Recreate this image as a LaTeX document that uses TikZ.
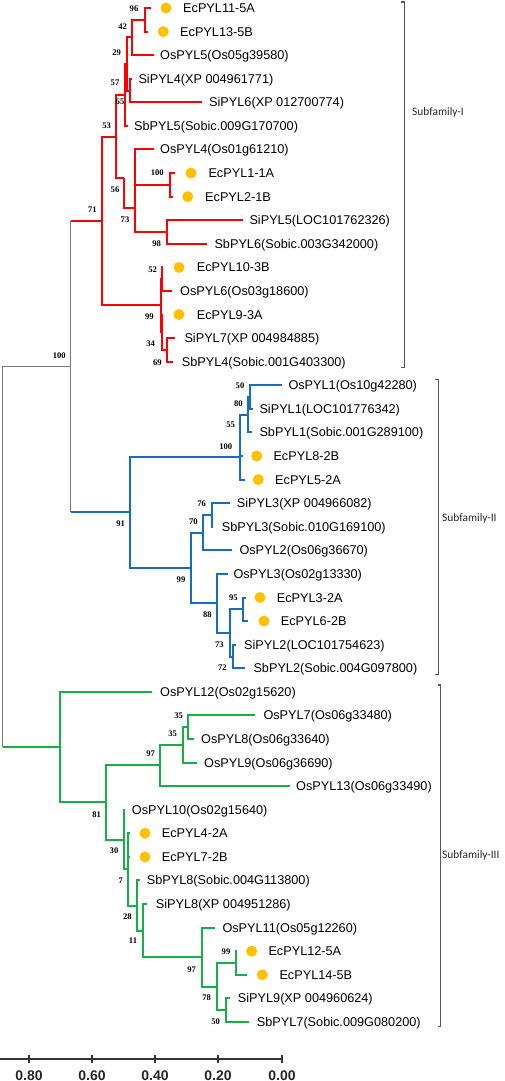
\documentclass[tikz,border=0pt]{standalone}
\usepackage{fontspec}
\setmainfont{Liberation Sans}
\newfontfamily\bsfont{Liberation Serif}
\newfontfamily\subfont{Carlito}
\definecolor{redc}{RGB}{255,0,0}
\definecolor{bluec}{RGB}{20,108,196}
\definecolor{greenc}{RGB}{20,176,70}
\definecolor{grayc}{RGB}{120,120,120}
\definecolor{dotc}{RGB}{255,192,0}
\definecolor{brk}{RGB}{85,85,85}
\tikzset{
  redl/.style={draw=redc,line width=2pt},
  bluel/.style={draw=bluec,line width=2pt},
  greenl/.style={draw=greenc,line width=2pt},
  grayl/.style={draw=grayc,line width=1.1pt},
  leaflab/.style={anchor=base west,inner sep=0pt,font=\fontsize{12.7}{14}\selectfont},
  bs/.style={inner sep=0pt,font=\bsfont\bfseries\fontsize{8.6}{9}\selectfont},
  dotn/.style={circle,fill=dotc,minimum size=11pt,inner sep=0pt},
  sublab/.style={anchor=base west,inner sep=0pt,text=black!85,font=\subfont\fontsize{11.4}{13}\selectfont},
  brack/.style={draw=brk,line width=1.1pt},
  axisl/.style={draw=black!80,line width=1.3pt},
  ticklab/.style={inner sep=0pt,font=\bfseries\fontsize{14}{16}\selectfont,text=black!85}
}
\newcommand\myleaf[5]{\pgfmathsetmacro\yy{8+23.58*(#2-1)}\coordinate (#1) at (#3,\yy);\node[leaflab] (#1t) at (#4,\yy+4.5) {#5};}
\newcommand\mydot[3]{\pgfmathsetmacro\yy{8+23.58*(#3-1)}\node[dotn] (#1) at (#2,\yy) {};}
\begin{document}
\begin{tikzpicture}[x=1pt,y=-1pt]
\useasboundingbox (0,0) rectangle (505,1081);
% ---------- leaves ----------
\myleaf{L1}{1}{150.7}{183}{EcPYL11-5A}\mydot{d1}{166}{1}
\myleaf{L2}{2}{147.7}{180}{EcPYL13-5B}\mydot{d2}{163.3}{2}
\myleaf{L3}{3}{154}{160}{OsPYL5(Os05g39580)}
\myleaf{L4}{4}{131.5}{138.3}{SiPYL4(XP 004961771)}
\myleaf{L5}{5}{201.7}{209}{SiPYL6(XP 012700774)}
\myleaf{L6}{6}{128.3}{134}{SbPYL5(Sobic.009G170700)}
\myleaf{L7}{7}{154}{160}{OsPYL4(Os01g61210)}
\myleaf{L8}{8}{175}{208.3}{EcPYL1-1A}\mydot{d8}{191}{8}
\myleaf{L9}{9}{173}{205}{EcPYL2-1B}\mydot{d9}{187.7}{9}
\myleaf{L10}{10}{243.3}{249.3}{SiPYL5(LOC101762326)}
\myleaf{L11}{11}{206.7}{214.3}{SbPYL6(Sobic.003G342000)}
\myleaf{L12}{12}{162.7}{196.7}{EcPYL10-3B}\mydot{d12}{179}{12}
\myleaf{L13}{13}{171.7}{180}{OsPYL6(Os03g18600)}
\myleaf{L14}{14}{162.7}{196.7}{EcPYL9-3A}\mydot{d14}{179}{14}
\myleaf{L15}{15}{175}{184.3}{SiPYL7(XP 004984885)}
\myleaf{L16}{16}{173.3}{181.7}{SbPYL4(Sobic.001G403300)}
\myleaf{L17}{17}{281.7}{288.3}{OsPYL1(Os10g42280)}
\myleaf{L18}{18}{252.7}{259.3}{SiPYL1(LOC101776342)}
\myleaf{L19}{19}{251.7}{259.3}{SbPYL1(Sobic.001G289100)}
\myleaf{L20}{20}{242.7}{273.3}{EcPYL8-2B}\mydot{d20}{256.7}{20}
\myleaf{L21}{21}{245}{275}{EcPYL5-2A}\mydot{d21}{258.3}{21}
\myleaf{L22}{22}{230}{236.7}{SiPYL3(XP 004966082)}
\myleaf{L23}{23}{213.3}{221.7}{SbPYL3(Sobic.010G169100)}
\myleaf{L24}{24}{231.7}{239.3}{OsPYL2(Os06g36670)}
\myleaf{L25}{25}{227.5}{233.3}{OsPYL3(Os02g13330)}
\myleaf{L26}{26}{246}{276.7}{EcPYL3-2A}\mydot{d26}{260}{26}
\myleaf{L27}{27}{248.3}{280.7}{EcPYL6-2B}\mydot{d27}{264}{27}
\myleaf{L28}{28}{236}{244}{SiPYL2(LOC101754623)}
\myleaf{L29}{29}{245}{253.3}{SbPYL2(Sobic.004G097800)}
\myleaf{L30}{30}{151.7}{160}{OsPYL12(Os02g15620)}
\myleaf{L31}{31}{255}{263.3}{OsPYL7(Os06g33480)}
\myleaf{L32}{32}{194.3}{201}{OsPYL8(Os06g33640)}
\myleaf{L33}{33}{196.7}{204}{OsPYL9(Os06g36690)}
\myleaf{L34}{34}{290}{296}{OsPYL13(Os06g33490)}
\myleaf{L35}{35}{125}{131.7}{OsPYL10(Os02g15640)}
\myleaf{L36}{36}{130}{161.7}{EcPYL4-2A}\mydot{d36}{145}{36}
\myleaf{L37}{37}{130}{161.7}{EcPYL7-2B}\mydot{d37}{145}{37}
\myleaf{L38}{38}{140}{146.7}{SbPYL8(Sobic.004G113800)}
\myleaf{L39}{39}{147}{155.7}{SiPYL8(XP 004951286)}
\myleaf{L40}{40}{215}{222.3}{OsPYL11(Os05g12260)}
\myleaf{L41}{41}{237}{268.3}{EcPYL12-5A}\mydot{d41}{251.7}{41}
\myleaf{L42}{42}{246.7}{279.3}{EcPYL14-5B}\mydot{d42}{262.3}{42}
\myleaf{L43}{43}{230}{237.7}{SiPYL9(XP 004960624)}
\myleaf{L44}{44}{249.3}{256.7}{SbPYL7(Sobic.009G080200)}
% ---------- internal nodes ----------
\coordinate (A) at (145,19.8);
\coordinate (B) at (132,37.5);
\coordinate (D) at (130,90.5);
\coordinate (C) at (126.7,64);
\coordinate (E) at (125,95);
\coordinate (F) at (116,136.5);
\coordinate (H) at (124,178);
\coordinate (I2) at (135,207.5);
\coordinate (J) at (170,184.85);
\coordinate (K) at (166.7,232);
\coordinate (G) at (101.7,220.75);
\coordinate (M) at (160.7,305);
\coordinate (M52) at (161.8,279.2);
\coordinate (M99) at (161.8,332);
\coordinate (N) at (166.7,349.9);
\coordinate (R) at (70.7,366.4);
\coordinate (Root) at (2.7,556.5);
\coordinate (B91) at (130,511.7);
\coordinate (Q100) at (240,456.7);
\coordinate (Q80) at (248.3,414.7);
\coordinate (Q50) at (250.2,397.1);
\coordinate (B99) at (190.7,567.5);
\coordinate (B70) at (202.7,532.7);
\coordinate (B76) at (211.7,515);
\coordinate (B88) at (216.7,603.3);
\coordinate (B73) at (230,632.9);
\coordinate (B95) at (243.3,609.3);
\coordinate (B72) at (233.3,656.5);
\coordinate (G0) at (60,746.75);
\coordinate (G81) at (106,801.65);
\coordinate (G97a) at (160,765.35);
\coordinate (G35b) at (182.7,744.9);
\coordinate (G35a) at (188.3,727.2);
\coordinate (G30) at (124,839.5);
\coordinate (G7) at (128.3,869.4);
\coordinate (G28) at (136.7,905.5);
\coordinate (G11) at (142.7,930.5);
\coordinate (G97b) at (201.7,957.1);
\coordinate (G78) at (216.7,986.6);
\coordinate (G99) at (236,963);
\coordinate (G50) at (226,1010.15);
% ---------- gray backbone ----------
\draw[grayl] (Root|-R) -- (Root|-G0);
\draw[grayl] (Root|-R) -- (R);
\draw[grayl] (R|-G) -- (R|-B91);
\draw[greenl] (Root|-G0) -- (G0);
\draw[redl] (R|-G) -- (G);
\draw[bluel] (R|-B91) -- (B91);
% ---------- red ----------
\draw[redl] (A)|-(L1) (A)|-(L2) (B)|-(A) (B)|-(L3) (D)|-(L4) (D)|-(L5)
 (C)|-(B) (C)|-(D) (E)|-(C) (E)|-(L6) (F)|-(E) (F)|-(H) (H)|-(I2)
 (I2)|-(L7) (I2)|-(J) (I2)|-(K) (J)|-(L8) (J)|-(L9) (K)|-(L10) (K)|-(L11)
 (G)|-(F) (G)|-(M) (M)|-(M52) (M)|-(M99) (M52)|-(L12) (M52)|-(L13)
 (M99)|-(L14) (M99)|-(N) (N)|-(L15) (N)|-(L16);
% ---------- blue ----------
\draw[bluel] (B91)|-(Q100) (B91)|-(B99) (Q100)|-(Q80) (Q100)|-(L20) (Q100)|-(L21)
 (Q80)|-(Q50) (Q80)|-(L19) (Q50)|-(L17) (Q50)|-(L18)
 (B99)|-(B70) (B99)|-(B88) (B70)|-(B76) (B70)|-(L24) (B76)|-(L22) (B76)|-(L23)
 (B88)|-(L25) (B88)|-(B73) (B73)|-(B95) (B73)|-(B72) (B95)|-(L26) (B95)|-(L27)
 (B72)|-(L28) (B72)|-(L29);
% ---------- green ----------
\draw[greenl] (G0)|-(L30) (G0)|-(G81) (G81)|-(G97a) (G81)|-(G30)
 (G97a)|-(G35b) (G97a)|-(L34) (G35b)|-(G35a) (G35b)|-(L33) (G35a)|-(L31) (G35a)|-(L32)
 (G30)|-(L35) (G30)|-(G7) (G7)|-(L36) (G7)|-(L37) (G7)|-(G28)
 (G28)|-(L38) (G28)|-(G11) (G11)|-(L39) (G11)|-(G97b) (G97b)|-(L40) (G97b)|-(G78)
 (G78)|-(G99) (G78)|-(G50) (G99)|-(L41) (G99)|-(L42) (G50)|-(L43) (G50)|-(L44);
% ---------- bootstrap values ----------
\node[bs] (s1) at (134,8.7) {96};
\node[bs] (s2) at (122.7,26.7) {42};
\node[bs] (s3) at (116.7,53) {29};
\node[bs] (s4) at (115,83) {57};
\node[bs] (s5) at (120,101.7) {65};
\node[bs] (s6) at (106.7,126) {53};
\node[bs] (s7) at (157.3,173) {100};
\node[bs] (s8) at (115,190) {56};
\node[bs] (s9) at (125,220) {73};
\node[bs] (s10) at (156.7,243.3) {98};
\node[bs] (s11) at (92.3,210) {71};
\node[bs] (s12) at (152.7,270) {52};
\node[bs] (s13) at (149.3,316.7) {99};
\node[bs] (s14) at (150.7,343.3) {34};
\node[bs] (s15) at (157.3,362.3) {69};
\node[bs] (s16) at (59.3,356) {100};
\node[bs] (s17) at (240,386) {50};
\node[bs] (s18) at (238.3,404) {80};
\node[bs] (s19) at (230.7,424.3) {55};
\node[bs] (s20) at (225.7,446.7) {100};
\node[bs] (s21) at (120.7,523.3) {91};
\node[bs] (s22) at (201.7,504) {76};
\node[bs] (s23) at (193.3,521.7) {70};
\node[bs] (s24) at (181,579.3) {99};
\node[bs] (s25) at (233.3,597.7) {95};
\node[bs] (s26) at (207.3,615) {88};
\node[bs] (s27) at (219.3,644.3) {73};
\node[bs] (s28) at (222.3,667.7) {72};
\node[bs] (s29) at (178.7,716) {35};
\node[bs] (s30) at (172.7,734) {35};
\node[bs] (s31) at (150.7,754) {97};
\node[bs] (s32) at (96.7,814.3) {81};
\node[bs] (s33) at (114,851) {30};
\node[bs] (s34) at (120.7,880.7) {7};
\node[bs] (s35) at (127.3,916.7) {28};
\node[bs] (s36) at (133,941) {11};
\node[bs] (s37) at (191.7,969.3) {97};
\node[bs] (s38) at (226,951.7) {99};
\node[bs] (s39) at (206.7,997.7) {78};
\node[bs] (s40) at (215.7,1021.7) {50};
% ---------- subfamily brackets ----------
\coordinate (k1a) at (401,2); \coordinate (k1b) at (404.3,2);
\coordinate (k1c) at (404.3,367.7); \coordinate (k1d) at (401,367.7);
\draw[brack] (k1a)--(k1b)--(k1c)--(k1d);
\coordinate (k2a) at (435.3,379.3); \coordinate (k2b) at (438.3,379.3);
\coordinate (k2c) at (438.3,674.3); \coordinate (k2d) at (435.3,674.3);
\draw[brack] (k2a)--(k2b)--(k2c)--(k2d);
\coordinate (k3a) at (437.5,685); \coordinate (k3b) at (440.7,685);
\coordinate (k3c) at (440.7,1026.7); \coordinate (k3d) at (437.5,1026.7);
\draw[brack] (k3a)--(k3b)--(k3c)--(k3d);
\node[sublab] (sf1) at (412,115.7) {Subfamily-I};
\node[sublab] (sf2) at (442,521.7) {Subfamily-II};
\node[sublab] (sf3) at (442,858.7) {Subfamily-III};
% ---------- scale ----------
\coordinate (ax0) at (0,1059); \coordinate (ax1) at (282,1059);
\draw[axisl] (ax0) -- (ax1);
\foreach \tx/\tl in {29/0.80,92/0.60,155/0.40,218/0.20,282/0.00}{
  \draw[axisl] (\tx,1055) -- (\tx,1063);
  \node[ticklab,anchor=base] at (\tx,1080) {\tl};
}
\end{tikzpicture}
\end{document}
